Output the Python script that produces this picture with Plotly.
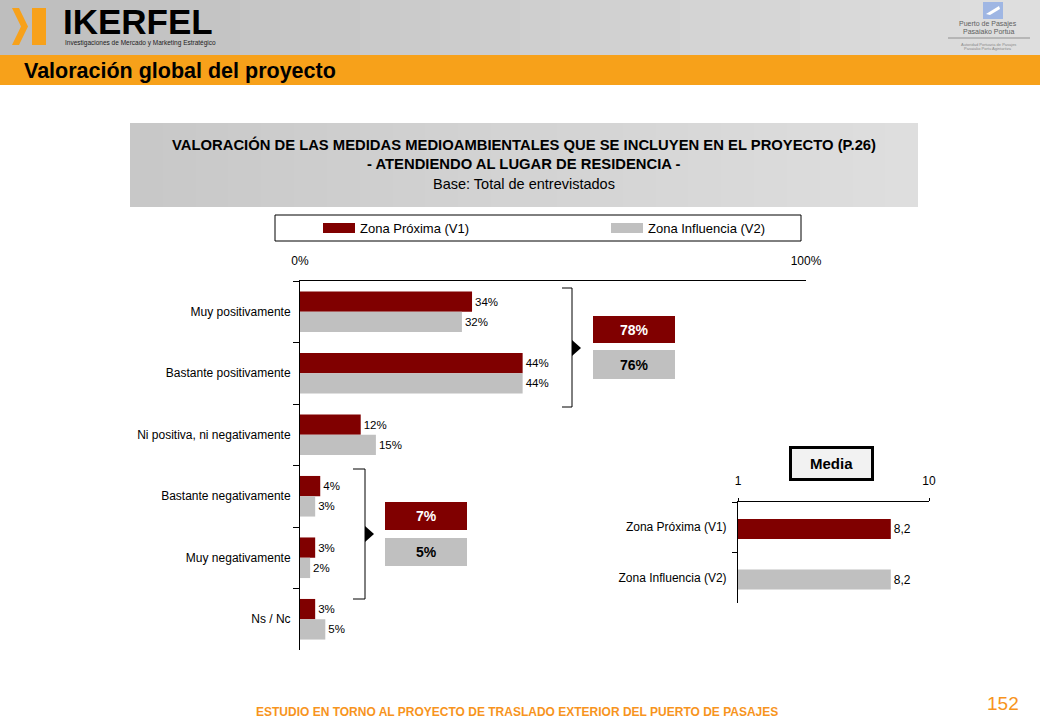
import plotly.graph_objects as go

# ---------------- data ----------------
categories = ["Muy positivamente", "Bastante positivamente", "Ni positiva, ni negativamente",
              "Bastante negativamente", "Muy negativamente", "Ns / Nc"]
series_names = ["Zona Próxima (V1)", "Zona Influencia (V2)"]
v1 = [34, 44, 12, 4, 3, 3]
v2 = [32, 44, 15, 3, 2, 5]
media_values = [8.2, 8.2]
main_tickvals = [0, 100]
main_ticktext = ["0%", "100%"]
media_tickvals = [1, 10]
media_ticktext = ["1", "10"]

# ---------------- style ----------------
W, H = 1040, 720
RED = "#800000"
GRAY = "#c0c0c0"
ORANGE = "#f7a11a"
FOOT_ORANGE = "#f7941d"
FONT = "Liberation Sans"


def X(px):
    return px / W


def Y(py):
    return 1 - py / H


fig = go.Figure()

# main grouped bars
for vals, color, off in [(v1, RED, -0.33), (v2, GRAY, 0.0)]:
    fig.add_trace(go.Bar(
        y=categories, x=vals, orientation="h", marker=dict(color=color, line=dict(width=0)),
        width=0.33, offset=off, text=[f"{v}%" for v in vals], textposition="outside",
        textfont=dict(size=11.5, color="black", family=FONT), cliponaxis=False,
        constraintext="none", xaxis="x", yaxis="y", hoverinfo="skip"))

# media bars
fig.add_trace(go.Bar(
    y=series_names, x=[v - 1 for v in media_values], base=1, orientation="h",
    marker=dict(color=[RED, GRAY], line=dict(width=0)), width=0.4, offset=-0.165,
    text=[f"{v:.1f}".replace(".", ",") for v in media_values], textposition="outside",
    textfont=dict(size=12, color="black", family=FONT), cliponaxis=False,
    constraintext="none", xaxis="x2", yaxis="y2", hoverinfo="skip"))

shapes = []
annotations = []


def rect(x0, y0, x1, y1, fill, line_color=None, lw=0, layer="above"):
    shapes.append(dict(type="rect", xref="paper", yref="paper", x0=X(x0), x1=X(x1), y0=Y(y1), y1=Y(y0),
                       fillcolor=fill, line=dict(color=line_color or fill, width=lw), layer=layer))


def line(x0, y0, x1, y1, color="black", lw=1):
    shapes.append(dict(type="line", xref="paper", yref="paper", x0=X(x0), x1=X(x1), y0=Y(y0), y1=Y(y1),
                       line=dict(color=color, width=lw)))


def poly(points, fill):
    d = "M " + " L ".join(f"{X(a)},{Y(b)}" for a, b in points) + " Z"
    shapes.append(dict(type="path", xref="paper", yref="paper", path=d, fillcolor=fill,
                       line=dict(width=0)))


def text(x, y, s, size=11, color="black", bold=False, xanchor="center", yanchor="middle"):
    if bold:
        s = f"<b>{s}</b>"
    annotations.append(dict(x=X(x), y=Y(y), xref="paper", yref="paper", text=s, showarrow=False,
                            xanchor=xanchor, yanchor=yanchor,
                            font=dict(size=size, color=color, family=FONT)))


def lerp_color(c0, c1, t):
    return "#" + "".join(f"{int(round(c0[i] + (c1[i] - c0[i]) * t)):02x}" for i in range(3))


# header gradient
n = 26
for i in range(n):
    x0 = W * i / n
    x1 = W * (i + 1) / n + 1
    rect(x0, 0, x1, 55, lerp_color((190, 190, 190), (222, 222, 222), i / (n - 1)), layer="below")
rect(0, 55, W, 85, ORANGE, layer="below")
text(22, 71, "Valoración global del proyecto", size=21.5, bold=True, xanchor="left")

# IKERFEL logo
poly([(12, 8), (19, 8), (28, 26.5), (19, 45), (12, 45), (21, 26.5)], ORANGE)
rect(32, 8, 46, 45, ORANGE)
text(61, 21, "IKERFEL", size=35, bold=True, xanchor="left")
text(63, 43, "Investigaciones de Mercado y Marketing Estratégico", size=6.5, xanchor="left", color="#222222")

# port logo
rect(983, 2, 1003, 19, "#9fb6e3")
poly([(986, 14), (999, 6), (1000, 9), (990, 15)], "white")
text(988, 24, "Puerto de Pasajes", size=7, color="#606060")
text(988, 32, "Pasaiako Portua", size=7, color="#606060")
line(948, 38, 1030, 38, color="#909090", lw=1)
text(988, 44, "Autoridad Portuaria de Pasajes", size=4, color="#8a8a8a")
text(988, 49, "Pasaiako Portu Agintaritza", size=4, color="#8a8a8a")

# chart title box
m = 24
for i in range(m):
    x0 = 130 + 788 * i / m
    x1 = 130 + 788 * (i + 1) / m + 1
    rect(x0, 123, min(x1, 918), 207, lerp_color((200, 200, 200), (222, 222, 222), i / (m - 1)), layer="below")
text(524, 145, "VALORACIÓN DE LAS MEDIDAS MEDIOAMBIENTALES QUE SE INCLUYEN EN EL PROYECTO (P.26)", size=14.8, bold=True)
text(524, 164, "- ATENDIENDO AL LUGAR DE RESIDENCIA -", size=14.8, bold=True)
text(524, 184, "Base: Total de entrevistados", size=14.5)

# legend box
rect(275, 215, 801, 241, "white", line_color="black", lw=1)
rect(323, 223, 355, 233, RED)
text(358, 228, series_names[0], size=13, xanchor="left")
rect(611, 223, 643, 233, GRAY)
text(646, 228, series_names[1], size=13, xanchor="left")

# upper bracket (first two categories)
line(562, 288, 572, 288)
line(572, 288, 572, 407)
line(562, 407, 572, 407)
poly([(572, 340), (581, 348), (572, 356)], "black")
top_v1 = v1[0] + v1[1]
top_v2 = v2[0] + v2[1]
rect(593, 316, 675, 343, RED)
text(634, 329.5, f"{top_v1}%", size=14, bold=True, color="white")
rect(593, 350, 675, 379, GRAY)
text(634, 364.5, f"{top_v2}%", size=14, bold=True, color="black")

# lower bracket (negative categories)
line(353, 469, 365, 469)
line(365, 469, 365, 599)
line(353, 599, 365, 599)
poly([(365, 526), (374, 534), (365, 542)], "black")
neg_v1 = v1[3] + v1[4]
neg_v2 = v2[3] + v2[4]
rect(385, 502, 467, 530, RED)
text(426, 516, f"{neg_v1}%", size=14, bold=True, color="white")
rect(385, 538, 467, 566, GRAY)
text(426, 552, f"{neg_v2}%", size=14, bold=True, color="black")

# media box
rect(790.5, 447.5, 872.5, 479.5, "#f2f2f2", line_color="black", lw=3)
text(831.5, 463.5, "Media", size=15, bold=True)

# footer
text(517, 712, "ESTUDIO EN TORNO AL PROYECTO DE TRASLADO EXTERIOR DEL PUERTO DE PASAJES", size=12,
     bold=True, color=FOOT_ORANGE)
text(1003, 703, "152", size=19, color=FOOT_ORANGE)

axis_common = dict(showgrid=False, zeroline=False, showline=True, linecolor="black", linewidth=1,
                   tickcolor="black", tickfont=dict(size=12, color="black", family=FONT),
                   fixedrange=True, automargin=False)

fig.update_layout(
    width=W, height=H, autosize=False, margin=dict(l=0, r=0, t=0, b=0, pad=0),
    paper_bgcolor="white", plot_bgcolor="white", showlegend=False,
    font=dict(family=FONT, color="black"),
    barmode="overlay",
    xaxis=dict(domain=[X(300), X(806)], range=[0, 100], side="top", anchor="y",
               tickvals=main_tickvals, ticktext=main_ticktext, ticks="inside", ticklen=4,
               ticklabelstandoff=10, **axis_common),
    yaxis=dict(domain=[Y(650), Y(281)], type="category", range=[5.5, -0.5], anchor="x",
               ticks="outside", tickson="boundaries", ticklen=6, ticklabelstandoff=6, **axis_common),
    xaxis2=dict(domain=[X(738), X(929)], range=[1, 10], side="top", anchor="y2",
                tickvals=media_tickvals, ticktext=media_ticktext, ticks="outside", ticklen=3,
                ticklabelstandoff=8, **axis_common),
    yaxis2=dict(domain=[Y(603), Y(502)], type="category", range=[1.5, -0.5], anchor="x2",
                ticks="outside", tickson="boundaries", ticklen=5, ticklabelstandoff=8, **axis_common),
    shapes=shapes, annotations=annotations,
)

post = (
    "var gd=document.getElementById('{plot_id}');"
    "document.body.style.margin='0';document.body.style.padding='0';document.body.style.overflow='hidden';"
    "document.documentElement.style.overflow='hidden';"
)

fig.write_html("out.html", config={"displayModeBar": False}, post_script=post)
